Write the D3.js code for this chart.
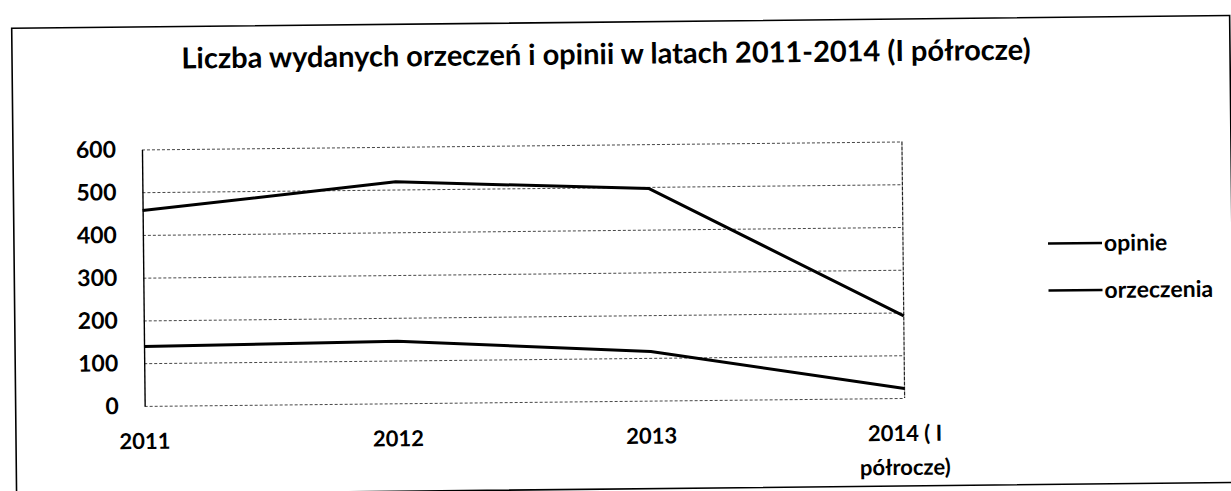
<!DOCTYPE html>
<html>
<head>
<meta charset="utf-8">
<script src="https://cdn.jsdelivr.net/npm/d3@7"></script>
<style>
  body { margin: 0; background: #fff; }
  text { font-family: Lato, "Open Sans", sans-serif; font-weight: 700; fill: #000; }
</style>
</head>
<body>
<div id="main-container"></div>
<script>
var width = 1231,
    height = 491

// data
var categories = ["2011", "2012", "2013", "2014 ( I półrocze)"]
var catLines = [["2011"], ["2012"], ["2013"], ["2014 ( I", "półrocze)"]]
var seriesNames = ["opinie", "orzeczenia"]
var opinie = [457, 518, 496, 192]
var orzeczenia = [139, 145, 115, 22]
var yTicks = [0, 100, 200, 300, 400, 500, 600]
var title = "Liczba wydanych orzeczeń i opinii w latach 2011-2014 (I półrocze)"

var plot = {left: 143, right: 903, top: 144.5, bottom: 401}

var svg = d3.select("#main-container").append("svg")
  .attr("id", "chart")
  .attr("width", width)
  .attr("height", height)

// the scan is tilted a little, right side up
var chart = svg.append("g")
  .attr("transform", "rotate(-0.6 615 245)")

chart.append("rect")
  .attr("x", 14)
  .attr("y", 22)
  .attr("width", 1218)
  .attr("height", 467)
  .attr("fill", "none")
  .attr("stroke", "#000")
  .attr("stroke-width", 1.6)

chart.append("text")
  .attr("x", 608)
  .attr("y", 64)
  .attr("text-anchor", "middle")
  .style("font-size", "29px")
  .text(title)

var x = d3.scalePoint()
  .domain(categories)
  .range([plot.left, plot.right])

var y = d3.scaleLinear()
  .domain([0, 600])
  .range([plot.bottom, plot.top])

// gridlines
chart.append("g")
  .attr("class", "grid")
  .attr("transform", "translate(" + plot.left + ",0)")
  .call(d3.axisLeft(y).tickValues(yTicks).tickSize(-(plot.right - plot.left)).tickFormat(""))
  .call(function(g){ g.select(".domain").remove() })
  .selectAll("line")
    .attr("stroke", "#333")
    .attr("stroke-width", 0.9)
    .attr("stroke-dasharray", "3,2")

// right edge of the plot area
chart.append("line")
  .attr("x1", plot.right).attr("x2", plot.right)
  .attr("y1", plot.top).attr("y2", plot.bottom)
  .attr("stroke", "#222")
  .attr("stroke-width", 1.2)
  .attr("stroke-dasharray", "4,1")

// y axis with labels
var yAxis = chart.append("g")
  .attr("transform", "translate(" + plot.left + ",0)")
  .call(d3.axisLeft(y).tickValues(yTicks).tickSize(0).tickPadding(26))
yAxis.select(".domain")
  .attr("stroke", "#000")
  .attr("stroke-width", 1.4)
yAxis.selectAll("text")
  .style("font-size", "23px")
  .style("font-family", "Lato, 'Open Sans', sans-serif")
  .style("font-weight", 700)

// category labels
var catLabels = chart.append("g").selectAll("text")
  .data(categories)
  .enter()
  .append("text")
    .attr("x", function(d){ return x(d) })
    .attr("y", 444)
    .attr("text-anchor", "middle")
    .style("font-size", "22px")

catLabels.selectAll("tspan")
  .data(function(d, i){ return catLines[i] })
  .enter()
  .append("tspan")
    .attr("x", function(){ return x(d3.select(this.parentNode).datum()) })
    .attr("dy", function(d, i){ return i == 0 ? 0 : 34 })
    .text(function(d){ return d })

// series lines
var line = d3.line()
  .x(function(d, i){ return x(categories[i]) })
  .y(function(d){ return y(d) })

chart.selectAll(".series")
  .data([opinie, orzeczenia])
  .enter()
  .append("path")
    .attr("class", "series")
    .attr("d", line)
    .attr("fill", "none")
    .attr("stroke", "#000")
    .attr("stroke-width", 3)
    .attr("stroke-linejoin", "round")

// legend
var legend = chart.append("g").selectAll("g")
  .data(seriesNames)
  .enter()
  .append("g")
    .attr("transform", function(d, i){ return "translate(1048," + (248 + i * 47) + ")" })

legend.append("line")
  .attr("x1", 0).attr("x2", 54)
  .attr("stroke", "#000")
  .attr("stroke-width", 2.5)

legend.append("text")
  .attr("x", 56)
  .attr("dy", "0.35em")
  .style("font-size", "23px")
  .text(function(d){ return d })
</script>
</body>
</html>
